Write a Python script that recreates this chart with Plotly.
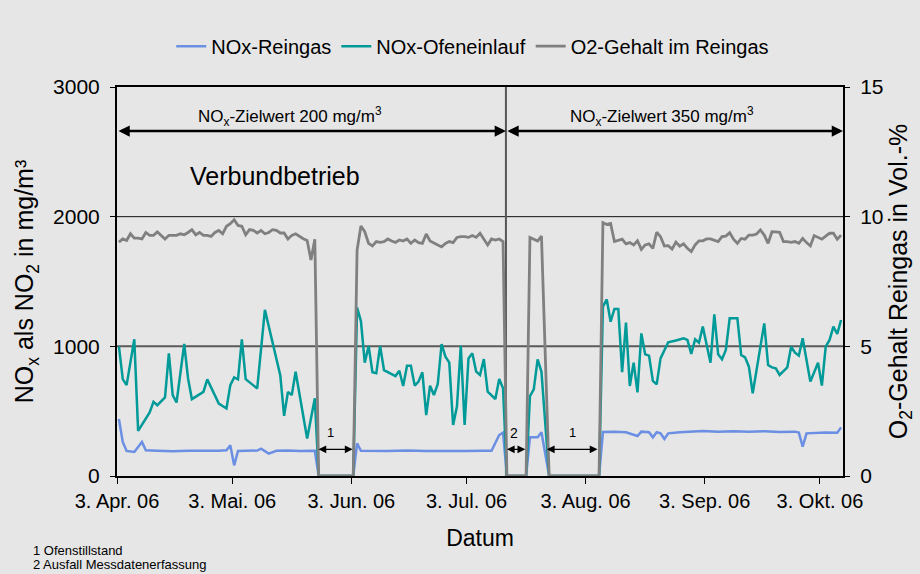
import plotly.graph_objects as go
import pandas as pd

# ---------------- data (days counted from 3 Apr 2006) ----------------
START = "2006-04-03"

blue_days = [0, 1, 2, 4, 6, 7, 10, 14, 18, 22, 26, 28,
             29, 30, 31, 33, 36, 37, 39, 41, 44, 47, 49, 51,
             52, 61, 62, 63, 70, 75, 80, 85, 90, 95, 97, 99,
             100, 101, 106, 107, 109, 110, 112, 125, 126, 129, 132, 135,
             136, 138, 139, 140, 141, 142, 143, 146, 148, 152, 156, 160,
             164, 168, 172, 176, 177, 178, 179, 181, 184, 187, 188]
blue_vals = [440, 263, 193, 185, 263, 198, 195, 190, 195, 193, 195, 198,
             237, 82, 193, 195, 196, 211, 173, 195, 197, 193, 195, 195,
             0, 0, 252, 195, 193, 197, 192, 195, 193, 195, 195, 316,
             334, 0, 0, 298, 298, 337, 0, 0, 340, 342, 337, 308,
             342, 337, 298, 337, 329, 285, 329, 337, 342, 347, 342, 345,
             342, 345, 340, 342, 335, 226, 329, 334, 336, 334, 375]

teal_days = [0, 1, 2, 4, 5, 8, 9, 10, 12, 13,
             14, 15, 17, 18, 19, 22, 23, 26, 28, 29,
             30, 31, 32, 33, 36, 38, 42, 43, 44, 45,
             46, 49, 51, 52, 61, 62, 63, 64, 65, 66,
             67, 68, 69, 72, 73, 74, 75, 76, 77, 78,
             79, 80, 81, 82, 83, 84, 85, 86, 87, 88,
             89, 90, 91, 92, 93, 94, 95, 96, 98, 99,
             100, 101, 106, 107, 108, 109, 110, 112, 125, 126,
             127, 128, 129, 130, 131, 132, 133, 134, 135, 136,
             137, 138, 139, 140, 141, 143, 145, 147, 148, 149,
             150, 151, 152, 154, 155, 156, 157, 158, 159, 161,
             162, 163, 164, 165, 168, 169, 170, 171, 172, 174,
             175, 176, 177, 178, 180, 182, 183, 184, 185, 186,
             187, 188]
teal_vals = [1000, 747, 701, 1054, 348, 490, 572, 546, 606, 946,
             624, 567, 1018, 752, 593, 649, 745, 559, 521, 701,
             760, 745, 1054, 747, 675, 1281, 778, 464, 649, 624,
             804, 289, 599, 0, 0, 1298, 1195, 874, 1003, 800,
             792, 1003, 817, 771, 812, 694, 851, 851, 697, 728,
             800, 470, 697, 625, 709, 1018, 920, 874, 393, 535,
             1005, 393, 907, 946, 805, 779, 902, 650, 594, 748,
             676, 0, 0, 617, 668, 900, 805, 0, 0, 1306,
             1362, 1190, 1288, 1288, 800, 1183, 694, 874, 645, 1100,
             938, 928, 733, 707, 907, 1031, 1045, 1062, 1049, 941,
             1054, 1028, 1152, 874, 1247, 938, 900, 972, 1216, 1216,
             933, 915, 843, 638, 1177, 856, 838, 830, 779, 838,
             997, 951, 928, 1062, 728, 874, 697, 997, 1049, 1152,
             1095, 1203]

o2_days = (list(range(0, 52)) + [52, 61] + list(range(62, 101)) + [101, 106]
           + list(range(107, 111)) + [112, 125] + list(range(126, 189)))
o2_vals = [9.02, 9.14, 9.08, 9.34, 9.17, 9.17, 9.14, 9.39, 9.28, 9.28,
           9.41, 9.28, 9.14, 9.28, 9.28, 9.28, 9.34, 9.30, 9.39, 9.50,
           9.30, 9.39, 9.28, 9.28, 9.24, 9.39, 9.47, 9.34, 9.63, 9.73,
           9.88, 9.66, 9.63, 9.30, 9.50, 9.47, 9.37, 9.47, 9.34, 9.39,
           9.50, 9.47, 9.37, 9.37, 9.14, 9.28, 9.34, 9.24, 9.15, 9.08,
           8.33, 9.13,
           0, 0,
           8.71, 9.64, 9.42, 8.97, 8.87, 9.04, 9.01, 9.04, 9.14, 9.06,
           9.01, 9.10, 9.06, 9.14, 8.97, 9.10, 9.00, 8.97, 9.33, 9.06,
           8.97, 8.91, 8.84, 8.97, 9.04, 9.00, 9.20, 9.23, 9.23, 9.20,
           9.27, 9.20, 9.36, 9.13, 8.91, 9.14, 9.10, 9.14, 9.04,
           0, 0,
           9.20, 9.13, 9.06, 9.25,
           0, 0,
           9.77, 9.70, 9.74, 9.04, 9.10, 9.13, 8.95, 9.00, 8.91, 9.07,
           8.74, 8.91, 8.95, 8.78, 9.40, 9.23, 8.87, 8.88, 8.75, 9.02,
           8.86, 8.95, 8.78, 8.65, 8.91, 9.07, 9.07, 9.14, 9.14, 9.10,
           9.04, 9.23, 9.25, 9.38, 9.13, 8.97, 9.16, 9.13, 9.29, 9.29,
           9.33, 9.49, 9.29, 8.97, 9.42, 9.41, 9.40, 9.04, 9.04, 9.01,
           9.04, 8.97, 9.16, 9.00, 8.87, 9.27, 9.20, 9.13, 9.25, 9.36,
           9.36, 9.13, 9.29]

tick_dates = ["2006-04-03", "2006-05-03", "2006-06-03", "2006-07-03",
              "2006-08-03", "2006-09-03", "2006-10-03"]
tick_text = ["3. Apr. 06", "3. Mai. 06", "3. Jun. 06", "3. Jul. 06",
             "3. Aug. 06", "3. Sep. 06", "3. Okt. 06"]

# ---------------- styling ----------------
BG = "#e6e6e6"
BLUE = "#6b8fe3"
TEAL = "#009a98"
GREY = "#808080"
FONT = "Liberation Sans, Arial, sans-serif"

t0 = pd.Timestamp(START)


def to_dates(days):
    # Excel date axis plots each day in the middle of its interval
    off = pd.Timedelta(hours=12)
    return [(t0 + pd.Timedelta(days=d) + off).strftime("%Y-%m-%d %H:%M:%S") for d in days]


def dstr(day):
    return (t0 + pd.Timedelta(days=day)).strftime("%Y-%m-%d %H:%M:%S")


fig = go.Figure()
fig.add_trace(go.Scatter(x=to_dates(blue_days), y=blue_vals, name="NOx-Reingas",
                         mode="lines", line=dict(color=BLUE, width=2.5)))
fig.add_trace(go.Scatter(x=to_dates(teal_days), y=teal_vals, name="NOx-Ofeneinlauf",
                         mode="lines", line=dict(color=TEAL, width=2.5)))
fig.add_trace(go.Scatter(x=to_dates(o2_days), y=o2_vals, name="O2-Gehalt im Reingas",
                         mode="lines", line=dict(color=GREY, width=2.8), yaxis="y2"))

x_end = 189          # axis runs to 9 Oct 2006
split = 101.25       # change of target value (13 Jul 2006)

shapes = [
    dict(type="line", xref="paper", x0=0, x1=1, yref="y", y0=1000, y1=1000,
         line=dict(color="#5a5a5a", width=2), layer="below"),
    dict(type="line", xref="paper", x0=0, x1=1, yref="y", y0=2000, y1=2000,
         line=dict(color="#111111", width=1), layer="below"),
    dict(type="line", xref="x", x0=dstr(split), x1=dstr(split), yref="paper", y0=0, y1=1,
         line=dict(color="#555555", width=2), layer="below"),
]

annotations = []
# double-headed arrows for the target values
for a, b in [(0, split), (split, x_end)]:
    annotations.append(dict(x=dstr(b), y=2660, ax=dstr(a), ay=2660, xref="x", yref="y",
                            axref="x", ayref="y", text="", showarrow=True,
                            arrowhead=2, arrowside="end+start", arrowsize=0.9,
                            arrowwidth=2.5, arrowcolor="black"))
annotations += [
    dict(x=0.2387, y=0.925, xref="paper", yref="paper", showarrow=False,
         xanchor="center", yanchor="middle",
         text="NO<sub>x</sub>-Zielwert 200 mg/m<sup>3</sup>", font=dict(size=17)),
    dict(x=0.751, y=0.925, xref="paper", yref="paper", showarrow=False,
         xanchor="center", yanchor="middle",
         text="NO<sub>x</sub>-Zielwert 350 mg/m<sup>3</sup>", font=dict(size=17)),
    dict(x=0.098, y=0.771, xref="paper", yref="paper", showarrow=False,
         xanchor="left", yanchor="middle",
         text="Verbundbetrieb", font=dict(size=25)),
    dict(x=-0.118, y=-0.192, xref="paper", yref="paper", showarrow=False,
         xanchor="left", yanchor="middle",
         text="1 Ofenstillstand", font=dict(size=13)),
    dict(x=-0.118, y=-0.228, xref="paper", yref="paper", showarrow=False,
         xanchor="left", yanchor="middle",
         text="2 Ausfall Messdatenerfassung", font=dict(size=13)),
]
# small arrows marking shutdowns / data loss
gaps = [(52.06, 61.33, "1", 55.7), (101.1, 106.3, "2", 103.4), (111.5, 125.1, "1", 118.7)]
for a, b, lab, lx in gaps:
    annotations.append(dict(x=dstr(b), y=206, ax=dstr(a), ay=206, xref="x", yref="y",
                            axref="x", ayref="y", text="", showarrow=True,
                            arrowhead=2, arrowside="end+start", arrowsize=1.2,
                            arrowwidth=1.3, arrowcolor="black"))
    annotations.append(dict(x=dstr(lx), y=335, xref="x", yref="y", text=lab,
                            xanchor="center", yanchor="middle",
                            showarrow=False, font=dict(size=14 if lab == "2" else 13)))

fig.update_layout(
    width=920, height=574,
    margin=dict(l=117, r=77, t=87, b=98),
    paper_bgcolor=BG, plot_bgcolor=BG,
    font=dict(family=FONT, color="black"),
    showlegend=True,
    legend=dict(orientation="h", x=0.49, xanchor="center", y=1.105, yanchor="middle",
                font=dict(size=20), bgcolor="rgba(0,0,0,0)"),
    xaxis=dict(type="date", range=[dstr(0), dstr(x_end)],
               tickvals=tick_dates, ticktext=tick_text,
               ticks="outside", ticklen=6, tickcolor="black", tickwidth=1,
               showline=True, linecolor="black", linewidth=1.5, mirror=True,
               showgrid=False, zeroline=False, tickfont=dict(size=20),
               automargin=False,
               title=dict(text="Datum", font=dict(size=23), standoff=19)),
    yaxis=dict(range=[0, 3000], tickvals=[0, 1000, 2000, 3000],
               ticks="outside", ticklen=5, tickcolor="black",
               showline=True, linecolor="black", linewidth=2,
               showgrid=False, zeroline=False, tickfont=dict(size=21),
               ticklabelstandoff=6, automargin=False,
               title=dict(text="NO<sub>x</sub> als NO<sub>2</sub> in mg/m³",
                          font=dict(size=25), standoff=12)),
    yaxis2=dict(range=[0, 15], tickvals=[0, 5, 10, 15], overlaying="y", side="right",
                ticks="outside", ticklen=5, tickcolor="black",
                showline=True, linecolor="black", linewidth=2,
                showgrid=False, zeroline=False, tickfont=dict(size=21),
                ticklabelstandoff=6, automargin=False,
                title=dict(text="O<sub>2</sub>-Gehalt Reingas in Vol.-%",
                           font=dict(size=25), standoff=4)),
    shapes=shapes,
    annotations=annotations,
)

fig.write_html("out.html", config={"displayModeBar": False},
               post_script="document.body.style.margin='0';document.body.style.overflow='hidden';")
